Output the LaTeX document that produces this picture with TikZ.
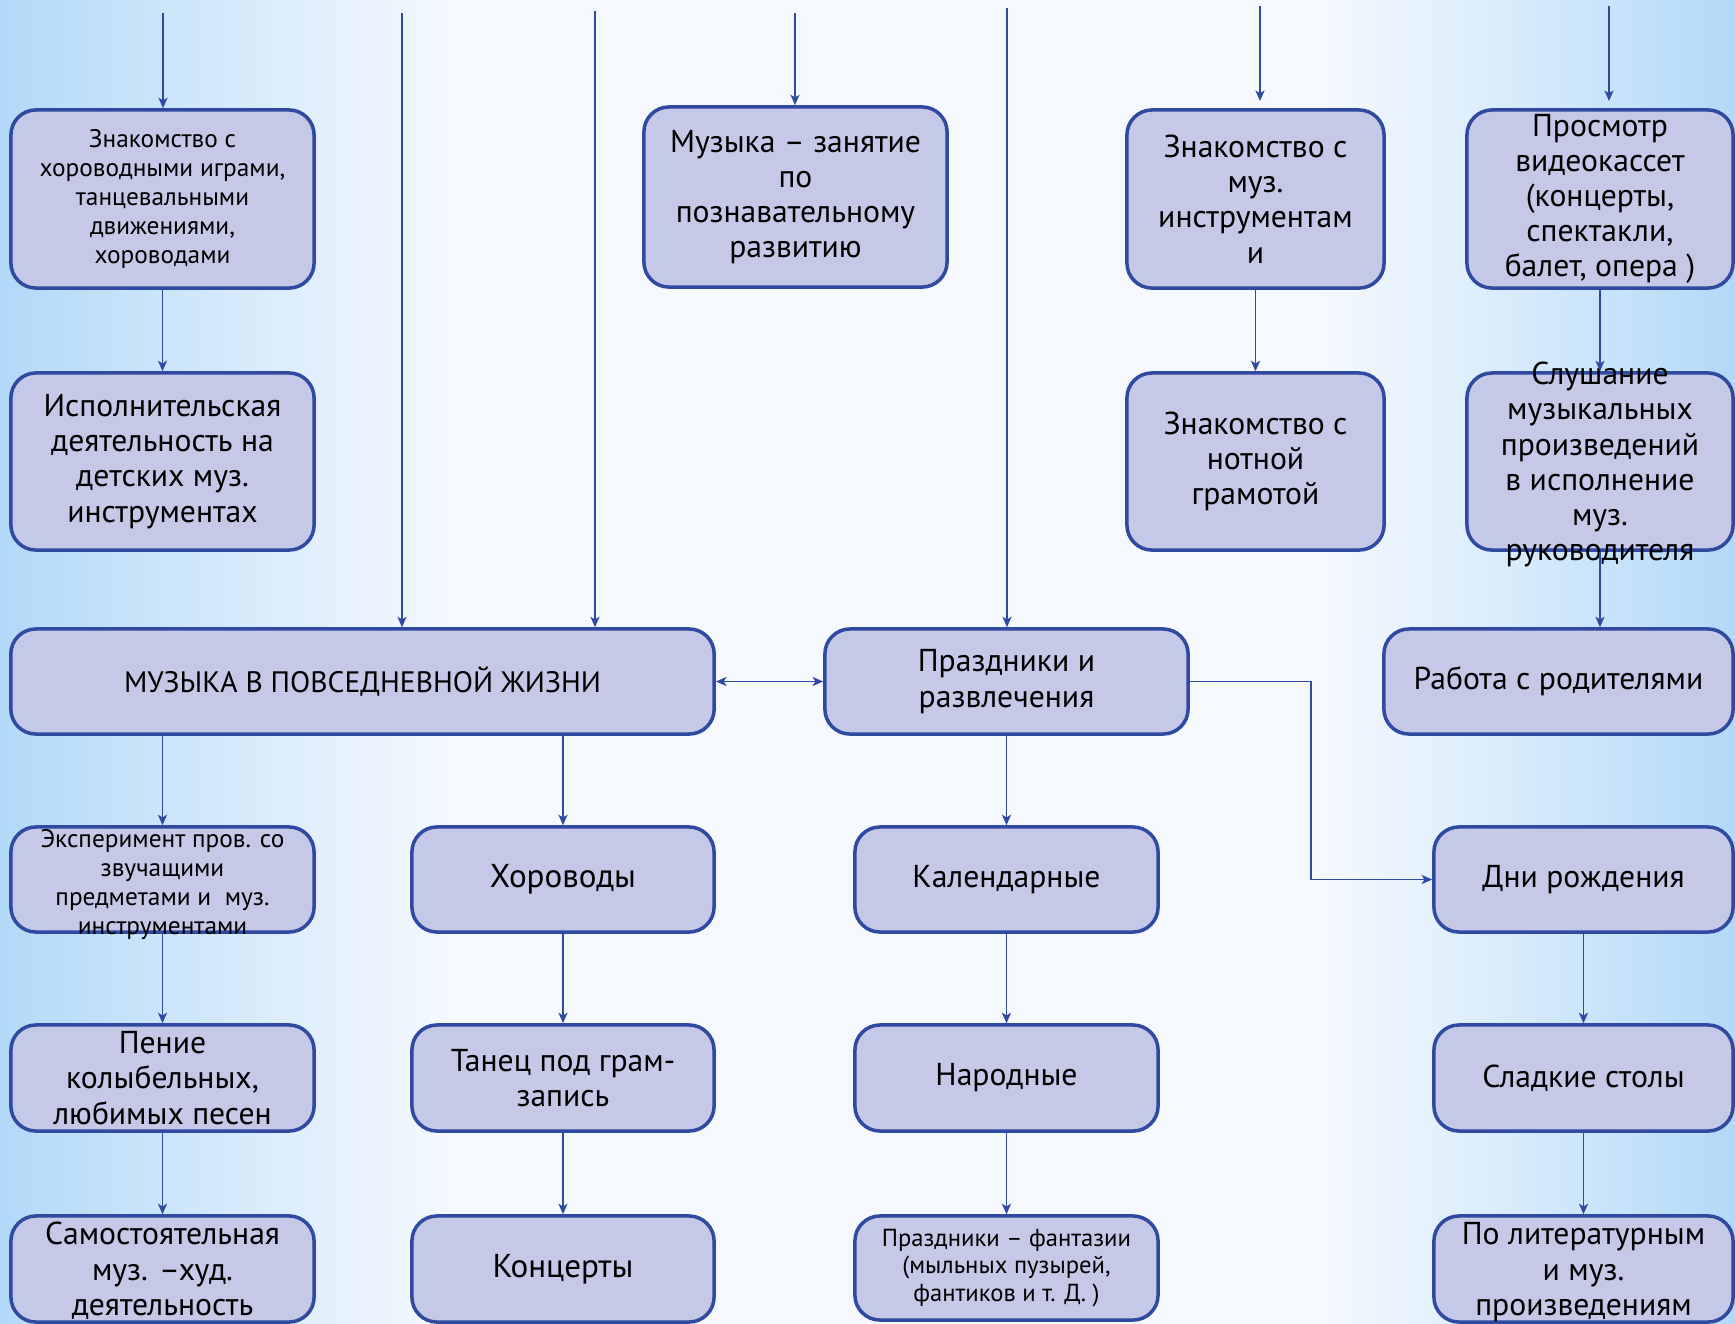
\documentclass[tikz,border=0pt]{standalone}
\usepackage{fontspec}
\setmainfont{PT Sans}
\usetikzlibrary{arrows.meta}
\definecolor{boxfill}{HTML}{C5C8E6}
\definecolor{boxline}{HTML}{2F4AA0}
\definecolor{bgside}{HTML}{B2D9F8}
\definecolor{bgmid}{HTML}{F5F9FE}
\pgfdeclarehorizontalshading{bgshade}{100bp}{color(0bp)=(bgside); color(25bp)=(bgside);
  color(30bp)=(bgside!60!bgmid); color(38bp)=(bgmid); color(63bp)=(bgmid);
  color(70bp)=(bgside!55!bgmid); color(75bp)=(bgside); color(100bp)=(bgside)}
% text that may run over the frame of its box
\newcommand{\ovtext}[1]{\raisebox{-3.4pt}[0pt][0pt]{\begin{tabular}{@{}c@{}}#1\end{tabular}}}
\tikzset{
  >={Stealth[length=3pt,width=2.6pt,inset=0.8pt]},
  box/.style={draw=boxline, fill=boxfill, line width=1pt, rounded corners=0.25cm,
    align=center, inner sep=0pt, font=\fontsize{9}{10}\selectfont},
  smalltxt/.style={font=\fontsize{7.2}{8.2}\selectfont},
  tinytxt/.style={font=\fontsize{7}{7.9}\selectfont},
  bigtxt/.style={font=\fontsize{9.4}{11}\selectfont},
  capstxt/.style={font=\fontsize{8.4}{10}\selectfont},
  conn/.style={draw=boxline, line width=0.45pt, ->},
}
\begin{document}
\begin{tikzpicture}[x=0.01cm,y=-0.01cm]
\useasboundingbox (0,0) rectangle (1735,1323);
\shade[shading=bgshade] (0,0) rectangle (1735,1323);

% upper row
\node[box, smalltxt, minimum width=3.03cm, minimum height=1.78cm] (b1) at (162.5,199)
  {Знакомство с\\ хороводными играми,\\ танцевальными\\ движениями,\\ хороводами};
\node[box, minimum width=3.03cm, minimum height=1.8cm] (b2) at (795.5,197)
  {Музыка – занятие\\ по\\ познавательному\\ развитию};
\node[box, minimum width=2.57cm, minimum height=1.78cm] (b3) at (1255.5,199)
  {Знакомство с\\ муз.\\ инструментам\\ и};
\node[box, minimum width=2.66cm, minimum height=1.78cm] (b4) at (1600,199)
  {Просмотр\\ видеокассет\\ (концерты,\\ спектакли,\\ балет, опера )};

\node[box, minimum width=3.03cm, minimum height=1.77cm] (b5) at (162.5,461.5)
  {Исполнительская\\ деятельность на\\ детских муз.\\ инструментах};
\node[box, minimum width=2.57cm, minimum height=1.77cm] (b6) at (1255.5,461.5)
  {Знакомство с\\ нотной\\ грамотой};
\node[box, minimum width=2.66cm, minimum height=1.77cm] (b7) at (1600,461.5)
  {\ovtext{Слушание\\ музыкальных\\ произведений\\ в исполнение\\ муз.\\ руководителя}};

% middle row
\node[box, capstxt, minimum width=7.03cm, minimum height=1.05cm] (b8) at (362.5,681.5)
  {МУЗЫКА В ПОВСЕДНЕВНОЙ ЖИЗНИ};
\node[box, minimum width=3.63cm, minimum height=1.05cm] (b9) at (1006.5,681.5)
  {Праздники и\\ развлечения};
\node[box, minimum width=3.49cm, minimum height=1.05cm] (b10) at (1558.5,681.5)
  {Работа с родителями};

% lower rows
\node[box, smalltxt, minimum width=3.03cm, minimum height=1.05cm] (b11) at (162.5,879.5)
  {\ovtext{Эксперимент пров. со\\ звучащими\\ предметами и~ муз.\\ инструментами}};
\node[box, bigtxt, minimum width=3.02cm, minimum height=1.05cm] (b12) at (563,879.5) {Хороводы};
\node[box, minimum width=3.03cm, minimum height=1.05cm] (b13) at (1006.5,879.5) {Календарные};
\node[box, minimum width=2.99cm, minimum height=1.05cm] (b14) at (1583.5,879.5) {Дни рождения};

\node[box, minimum width=3.03cm, minimum height=1.06cm] (b15) at (162.5,1078)
  {Пение\\ колыбельных,\\ любимых песен};
\node[box, minimum width=3.02cm, minimum height=1.06cm] (b16) at (563,1078)
  {Танец под грам-\\ запись};
\node[box, minimum width=3.03cm, minimum height=1.06cm] (b17) at (1006.5,1078) {Народные};
\node[box, minimum width=2.99cm, minimum height=1.06cm] (b18) at (1583.5,1078) {Сладкие столы};

\node[box, minimum width=3.03cm, minimum height=1.06cm] (b19) at (162.5,1269)
  {\ovtext{Самостоятельная\\ муз. –худ.\\ деятельность}};
\node[box, bigtxt, minimum width=3.02cm, minimum height=1.06cm] (b20) at (563,1269) {Концерты};
\node[box, tinytxt, minimum width=3.03cm, minimum height=1.04cm] (b21) at (1006.5,1268)
  {Праздники – фантазии\\ (мыльных пузырей,\\ фантиков и т. Д. )};
\node[box, minimum width=2.99cm, minimum height=1.06cm] (b22) at (1583.5,1269)
  {\ovtext{По литературным\\ и муз.\\ произведениям}};

% lines coming in from above
\coordinate (t1) at (163,13);
\coordinate (t2) at (402,13);
\coordinate (t3) at (595,11);
\coordinate (t4) at (795,13);
\coordinate (t5) at (1007,8);
\coordinate (t6) at (1260,6);
\coordinate (e6) at (1260,101);
\coordinate (t7) at (1609,6);
\coordinate (e7) at (1609,101);
\draw[conn] (t1) -- (t1 |- b1.north);
\draw[conn] (t2) -- (t2 |- b8.north);
\draw[conn] (t3) -- (t3 |- b8.north);
\draw[conn] (t4) -- (t4 |- b2.north);
\draw[conn] (t5) -- (t5 |- b9.north);
\draw[conn] (t6) -- (e6);
\draw[conn] (t7) -- (e7);

\draw[conn] (b1) -- (b5);
\draw[conn] (b3) -- (b6);
\draw[conn] (b4) -- (b7);
\draw[conn] (b7) -- (b7 |- b10.north);
\draw[conn, <->] (b8) -- (b9);
\coordinate (bend) at (1311,681.5);
\draw[conn] (b9.east) -- (bend) |- (b14.west);

\draw[conn] (b11 |- b8.south) -- (b11);
\draw[conn] (b12 |- b8.south) -- (b12);
\draw[conn] (b9) -- (b13);
\draw[conn] (b14) -- (b18);
\draw[conn] (b11) -- (b15);
\draw[conn] (b12) -- (b16);
\draw[conn] (b13) -- (b17);
\draw[conn] (b18) -- (b22);
\draw[conn] (b15) -- (b19);
\draw[conn] (b16) -- (b20);
\draw[conn] (b17) -- (b21);
\end{tikzpicture}
\end{document}
